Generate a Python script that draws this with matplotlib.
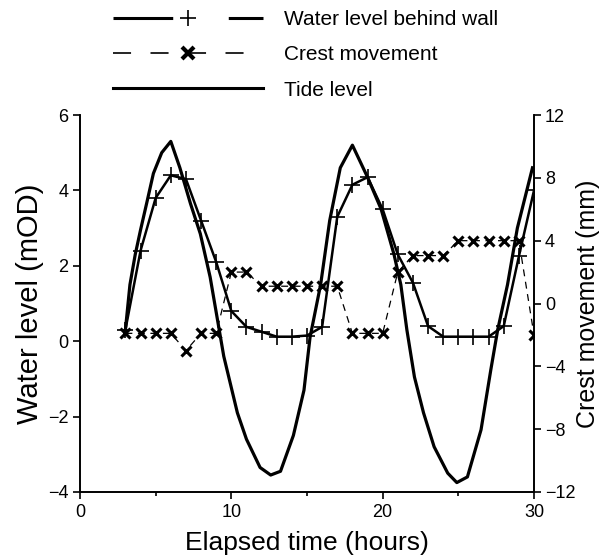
import matplotlib
matplotlib.use("Agg")
import matplotlib.pyplot as plt
from matplotlib.lines import Line2D
from matplotlib.ticker import MultipleLocator

plt.rcParams['font.family'] = ['Liberation Sans', 'DejaVu Sans']
plt.rcParams['lines.scale_dashes'] = False

# Tide level (mOD)
tide_t = [3.0, 3.3, 3.65, 4.0, 4.4, 4.85, 5.4, 6.0, 6.6, 7.3, 7.95, 8.6, 9.05, 9.5,
          10.4, 11.0, 11.9, 12.6, 13.25, 14.1, 14.8, 15.2, 15.9, 16.5, 17.2, 18.0,
          19.0, 19.9, 20.75, 21.2, 21.6, 22.1, 22.7, 23.4, 24.3, 24.9, 25.6, 26.5,
          27.15, 27.6, 28.25, 28.9, 29.9]
tide_y = [0.3, 1.5, 2.3, 2.95, 3.65, 4.45, 5.0, 5.3, 4.6, 3.65, 2.85, 1.7, 0.65, -0.4,
          -1.9, -2.6, -3.35, -3.55, -3.45, -2.5, -1.3, 0.1, 1.5, 3.2, 4.6, 5.2,
          4.35, 3.5, 2.3, 1.5, 0.3, -0.95, -1.9, -2.8, -3.5, -3.75, -3.6, -2.35,
          -0.75, 0.3, 1.5, 3.0, 4.6]

# Water level behind wall (mOD)
water_t = list(range(3, 31))
water_y = [0.3, 2.4, 3.8, 4.4, 4.3, 3.2, 2.1, 0.8, 0.38, 0.25, 0.12, 0.12, 0.15, 0.38,
           3.3, 4.15, 4.35, 3.5, 2.3, 1.55, 0.4, 0.12, 0.12, 0.12, 0.12, 0.4, 2.25, 4.0]

# Crest movement (mm)
crest_t = list(range(3, 31))
crest_y = [-1.9, -1.9, -1.9, -1.9, -3.0, -1.9, -1.9, 2.0, 2.0, 1.1, 1.1, 1.1, 1.1, 1.1,
           1.1, -1.9, -1.9, -1.9, 2.0, 3.05, 3.05, 3.05, 4.0, 4.0, 4.0, 4.0, 4.0, -2.0]

labels = ["Water level behind wall", "Crest movement", "Tide level"]

W, H = 602, 558
fig = plt.figure(figsize=(W / 100, H / 100), dpi=100)
ax = fig.add_axes([80 / W, 1 - 492 / H, (534 - 80) / W, (492 - 115) / H])
ax2 = ax.twinx()

ax.plot(tide_t, tide_y, color='k', lw=2.3)
ax.plot(water_t, water_y, color='k', lw=1.8, marker='+', ms=11, mew=1.2)
ax2.plot(crest_t, crest_y, color='k', lw=0.9, ls=(0, (5, 4)), marker='x', ms=6.5, mew=2.2)

ax.set_xlim(0, 30)
ax.set_ylim(-4, 6)
ax2.set_ylim(-12, 12)
ax.xaxis.set_major_locator(MultipleLocator(10))
ax.xaxis.set_minor_locator(MultipleLocator(5))
ax.yaxis.set_major_locator(MultipleLocator(2))
ax2.yaxis.set_major_locator(MultipleLocator(4))

for a in (ax, ax2):
    a.spines['top'].set_visible(False)
    for s in a.spines.values():
        s.set_linewidth(1.2)
    a.tick_params(which='major', direction='out', length=5, width=1.2, labelsize=13)
    a.tick_params(which='minor', direction='out', length=3, width=1.2)
ax2.tick_params(which='major', pad=3)

ax.set_xlabel("Elapsed time (hours)", fontsize=19, labelpad=7)
ax.set_ylabel("Water level (mOD)", fontsize=21, labelpad=3)
ax2.set_ylabel("Crest movement (mm)", fontsize=18, labelpad=0)

# legend proxies
h_water = Line2D([], [], color='k', lw=2.2, marker='+', ms=12, mew=1.2,
                 ls=(0, (43, 40, 26)))
h_crest = Line2D([], [], color='k', lw=1.2, marker='x', ms=9, mew=3,
                 ls=(0, (13, 14)))
h_tide = Line2D([], [], color='k', lw=2.2)
fig.legend([h_water, h_crest, h_tide], labels, loc='upper left',
           bbox_to_anchor=(113 / W, 1 - 10 / H), frameon=False, fontsize=15,
           handlelength=7.2, handletextpad=1.0, labelspacing=0.78,
           borderpad=0, borderaxespad=0, numpoints=1)

fig.savefig("out.png", dpi=100)
